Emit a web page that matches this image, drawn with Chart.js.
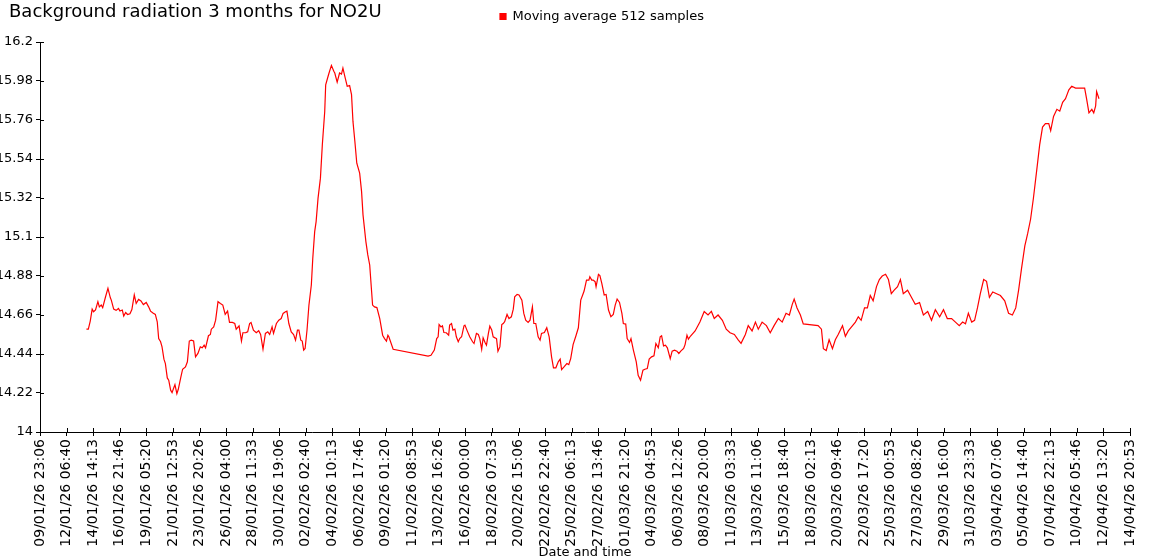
<!DOCTYPE html>
<html>
<head>
<meta charset="utf-8">
<title>Background radiation 3 months for NO2U</title>
<script src="https://cdn.jsdelivr.net/npm/chart.js@4.4.1/dist/chart.umd.min.js"></script>
<style>
  html, body { margin: 0; padding: 0; background: #fff; }
</style>
</head>
<body>
<canvas id="radiationChart" width="1150" height="560"></canvas>
<script>
// Texts
const chartTitle = 'Background radiation 3 months for NO2U';
const seriesLabel = 'Moving average 512 samples';
const xAxisTitle = 'Date and time';

// Time axis: hours since 09/01/26 23:06 (last tick 14/04/26 20:53)
const spanHours = 2277.78;
const xTickLabels = [
  '09/01/26 23:06', '12/01/26 06:40', '14/01/26 14:13', '16/01/26 21:46', '19/01/26 05:20',
  '21/01/26 12:53', '23/01/26 20:26', '26/01/26 04:00', '28/01/26 11:33', '30/01/26 19:06',
  '02/02/26 02:40', '04/02/26 10:13', '06/02/26 17:46', '09/02/26 01:20', '11/02/26 08:53',
  '13/02/26 16:26', '16/02/26 00:00', '18/02/26 07:33', '20/02/26 15:06', '22/02/26 22:40',
  '25/02/26 06:13', '27/02/26 13:46', '01/03/26 21:20', '04/03/26 04:53', '06/03/26 12:26',
  '08/03/26 20:00', '11/03/26 03:33', '13/03/26 11:06', '15/03/26 18:40', '18/03/26 02:13',
  '20/03/26 09:46', '22/03/26 17:20', '25/03/26 00:53', '27/03/26 08:26', '29/03/26 16:00',
  '31/03/26 23:33', '03/04/26 07:06', '05/04/26 14:40', '07/04/26 22:13', '10/04/26 05:46',
  '12/04/26 13:20', '14/04/26 20:53'
];
const yTickValues = [14, 14.22, 14.44, 14.66, 14.88, 15.1, 15.32, 15.54, 15.76, 15.98, 16.2];

// Moving average samples (hours since start, value)
const sampleHours = [
  97, 101, 105, 109, 112, 116, 121, 124, 128, 131, 137, 142, 147, 149, 154, 159, 164, 167, 172, 175,
  179, 183, 188, 192, 197, 201, 206, 211, 216, 222, 227, 231, 236, 241, 245, 248, 252, 255, 259, 262,
  266, 269, 273, 276, 279, 282, 286, 289, 294, 298, 304, 308, 312, 316, 321, 325, 330, 335, 339, 343,
  346, 352, 356, 358, 363, 367, 372, 377, 382, 387, 392, 396, 402, 407, 410, 416,
  421, 424, 430, 434, 438, 441, 446, 452, 457, 461, 466, 471, 476, 480, 485, 488, 494, 499, 504, 508,
  513, 516, 520, 525, 530, 534, 538, 541, 545, 548, 551, 554, 558, 562, 567, 570, 574, 577, 581, 586,
  590, 595, 597, 601, 604, 609, 614, 616, 621, 626, 630, 633, 637, 642, 647, 651, 654, 658, 662, 668,
  672, 675, 681, 685, 689, 693, 695, 699, 704, 710, 716, 720, 724, 727, 729, 738,
  811, 817, 824, 829, 832, 834, 838, 841, 844, 849, 854, 856, 860, 863, 867, 870, 874, 877, 881, 886,
  888, 893, 898, 904, 907, 912, 916, 919, 923, 926, 930, 933, 937, 940, 944, 947, 951, 954, 957, 961,
  965, 968, 971, 976, 980, 985, 989, 992, 997, 1001, 1007, 1011, 1015, 1020, 1024, 1029, 1032, 1036, 1041, 1045,
  1048, 1054, 1059, 1064, 1069, 1073, 1078, 1083, 1087, 1090, 1095, 1101, 1105, 1109, 1114, 1120, 1125, 1130, 1134, 1137,
  1142, 1147, 1149, 1153, 1156, 1160, 1162, 1167, 1170, 1174, 1179, 1183, 1188, 1193, 1198, 1202, 1206, 1211, 1216, 1219,
  1224, 1227, 1232, 1235, 1240, 1246, 1250, 1255, 1260, 1264, 1269, 1273, 1278, 1283, 1287, 1292, 1296, 1299, 1303, 1307,
  1311, 1317, 1321, 1326, 1331, 1335, 1339, 1345, 1348, 1352, 1355,
  1359, 1369, 1379, 1388, 1396, 1403, 1409, 1417, 1426, 1434, 1442, 1451, 1459, 1465, 1474, 1480, 1488, 1495, 1501, 1509,
  1518, 1526, 1534, 1543, 1551, 1559, 1566, 1572, 1576, 1582, 1589, 1595,
  1626, 1633, 1637, 1643, 1649, 1656, 1662, 1668, 1677, 1683, 1689, 1698, 1704, 1710, 1716, 1723, 1729, 1735, 1741, 1748,
  1754, 1760, 1767, 1773, 1779, 1785, 1792, 1798, 1804, 1813, 1821, 1829, 1838, 1846, 1855, 1863, 1871, 1880, 1888, 1896,
  1905, 1913, 1921, 1928, 1934, 1940, 1947, 1953, 1959, 1965, 1972, 1978, 1984, 1991, 1999, 2007, 2016, 2024, 2032, 2039,
  2045, 2051, 2058, 2064, 2070, 2076, 2083, 2089, 2095, 2101, 2108, 2112, 2118, 2125, 2131, 2137, 2143, 2150, 2156, 2164,
  2175, 2183, 2187, 2192, 2198, 2202, 2206, 2208, 2213
];
const sampleValues = [
  14.580, 14.580, 14.626, 14.693, 14.678, 14.688, 14.735, 14.706, 14.716, 14.701, 14.763, 14.810, 14.757, 14.744, 14.693, 14.686, 14.697, 14.682, 14.688, 14.654,
  14.674, 14.663, 14.667, 14.691, 14.773, 14.725, 14.748, 14.739, 14.719, 14.731, 14.706, 14.682, 14.671, 14.663, 14.622, 14.527, 14.509, 14.480, 14.411, 14.386,
  14.305, 14.292, 14.236, 14.222, 14.245, 14.267, 14.216, 14.241, 14.305, 14.354, 14.367, 14.396, 14.513, 14.518, 14.513, 14.424, 14.443, 14.480, 14.475, 14.490,
  14.475, 14.543, 14.550, 14.580, 14.593, 14.631, 14.735, 14.725, 14.716, 14.663, 14.682, 14.618, 14.618, 14.612, 14.580, 14.599,
  14.513, 14.560, 14.561, 14.565, 14.612, 14.618, 14.575, 14.560, 14.571, 14.550, 14.467, 14.556, 14.565, 14.550, 14.593, 14.556, 14.612, 14.631, 14.640, 14.669,
  14.678, 14.682, 14.612, 14.565, 14.550, 14.518, 14.575, 14.575, 14.518, 14.513, 14.462, 14.471, 14.575, 14.716, 14.829, 14.979, 15.130, 15.187, 15.318, 15.432,
  15.620, 15.808, 15.959, 15.997, 16.025, 16.068, 16.035, 16.025, 15.974, 16.025, 16.019, 16.053, 16.006, 15.950, 15.954, 15.903, 15.752, 15.639, 15.516, 15.460,
  15.356, 15.225, 15.074, 14.999, 14.942, 14.791, 14.716, 14.706, 14.702, 14.639, 14.546, 14.527, 14.513, 14.546, 14.537, 14.467,
  14.428, 14.433, 14.462, 14.527, 14.537, 14.606, 14.593, 14.599, 14.561, 14.560, 14.546, 14.603, 14.612, 14.575, 14.580, 14.537, 14.509, 14.527, 14.537, 14.599,
  14.603, 14.569, 14.537, 14.509, 14.499, 14.556, 14.550, 14.527, 14.467, 14.531, 14.505, 14.490, 14.556, 14.597, 14.575, 14.537, 14.531, 14.527, 14.456, 14.480,
  14.606, 14.612, 14.622, 14.663, 14.640, 14.650, 14.693, 14.763, 14.776, 14.773, 14.744, 14.669, 14.631, 14.618, 14.631, 14.706, 14.612, 14.612, 14.537, 14.518,
  14.556, 14.561, 14.588, 14.537, 14.424, 14.362, 14.362, 14.396, 14.411, 14.352, 14.367, 14.386, 14.380, 14.414, 14.493, 14.543, 14.588, 14.744, 14.773, 14.795,
  14.857, 14.857, 14.876, 14.857, 14.857, 14.848, 14.819, 14.889, 14.882, 14.838, 14.773, 14.776, 14.688, 14.650, 14.663, 14.716, 14.750, 14.731, 14.669, 14.612,
  14.609, 14.527, 14.505, 14.527, 14.462, 14.396, 14.320, 14.292, 14.349, 14.354, 14.358, 14.411, 14.424, 14.430, 14.499, 14.475, 14.537, 14.543, 14.486, 14.490,
  14.475, 14.414, 14.456, 14.462, 14.456, 14.443, 14.456, 14.471, 14.493, 14.546, 14.524,
  14.54, 14.57, 14.62, 14.68, 14.66, 14.68, 14.64, 14.66, 14.63, 14.58, 14.56, 14.55, 14.52, 14.50, 14.55, 14.60, 14.57, 14.62, 14.58, 14.62,
  14.60, 14.56, 14.60, 14.64, 14.62, 14.67, 14.66, 14.72, 14.75, 14.70, 14.66, 14.61,
  14.60, 14.58, 14.47, 14.46, 14.52, 14.47, 14.52, 14.55, 14.60, 14.54, 14.57, 14.60, 14.62, 14.65, 14.63, 14.70, 14.70, 14.77, 14.74, 14.82,
  14.86, 14.88, 14.89, 14.86, 14.78, 14.80, 14.82, 14.86, 14.78, 14.80, 14.76, 14.72, 14.73, 14.66, 14.68, 14.63, 14.69, 14.65, 14.69, 14.64,
  14.64, 14.62, 14.60, 14.62, 14.61, 14.67, 14.62, 14.63, 14.70, 14.78, 14.86, 14.85, 14.76, 14.79, 14.78, 14.77, 14.74, 14.67, 14.66, 14.70,
  14.80, 14.92, 15.05, 15.12, 15.20, 15.32, 15.48, 15.62, 15.72, 15.74, 15.74, 15.70, 15.78, 15.82, 15.81, 15.86, 15.88, 15.93, 15.95, 15.94,
  15.94, 15.94, 15.88, 15.80, 15.82, 15.80, 15.84, 15.92, 15.88
];

const lineColor = '#ff0000';
const xStep = spanHours / (xTickLabels.length - 1);
const legendBoxX = 500;

Chart.defaults.font.family = '"DejaVu Sans", Verdana, sans-serif';
Chart.defaults.color = '#000';

// Ticks in the reference cross the axis line: draw the inner half here
const crossTicks = {
  id: 'crossTicks',
  afterDraw(chart) {
    const { ctx, chartArea, scales } = chart;
    ctx.save();
    ctx.strokeStyle = '#000';
    ctx.lineWidth = 1;
    ctx.beginPath();
    scales.x.ticks.forEach(t => {
      const px = Math.round(scales.x.getPixelForValue(t.value)) + 0.5;
      ctx.moveTo(px, chartArea.bottom);
      ctx.lineTo(px, chartArea.bottom - 4);
    });
    scales.y.ticks.forEach(t => {
      const py = Math.round(scales.y.getPixelForValue(t.value)) + 0.5;
      ctx.moveTo(chartArea.left, py);
      ctx.lineTo(chartArea.left + 4, py);
    });
    ctx.stroke();
    ctx.restore();
  }
};

// Title on the left and legend on the same line
const header = {
  id: 'header',
  afterLayout(chart) {
    const lg = chart.legend;
    const dy = lg.top;
    lg.top -= dy;
    lg.bottom -= dy;
    const dx = (legendBoxX - 10) - lg.left;
    lg.left += dx;
    lg.right += dx;
  },
  afterDraw(chart) {
    const ctx = chart.ctx;
    ctx.save();
    ctx.font = '18px "DejaVu Sans", Verdana, sans-serif';
    ctx.fillStyle = '#000';
    ctx.textBaseline = 'alphabetic';
    ctx.fillText(chartTitle, 9, 17);
    ctx.restore();
  }
};

const chart = new Chart(document.getElementById('radiationChart'), {
  type: 'line',
  data: {
    datasets: [{
      label: seriesLabel,
      data: sampleHours.map((h, i) => ({ x: h, y: sampleValues[i] })),
      borderColor: lineColor,
      backgroundColor: lineColor,
      borderWidth: 1.2,
      pointRadius: 0,
      tension: 0,
      fill: false
    }]
  },
  options: {
    responsive: false,
    animation: false,
    layout: { padding: { top: 9, right: 20, left: 0, bottom: 0 } },
    plugins: {
      legend: {
        position: 'top',
        align: 'start',
        labels: { boxWidth: 6, boxHeight: 6, padding: 10, font: { size: 13 }, color: '#000' }
      },
      tooltip: { enabled: false }
    },
    scales: {
      x: {
        type: 'linear',
        min: 0,
        max: spanHours,
        afterBuildTicks: s => { s.ticks = xTickLabels.map((_, i) => ({ value: i * xStep })); },
        afterFit: s => { s.height = 128; },
        ticks: {
          autoSkip: false,
          minRotation: 90,
          maxRotation: 90,
          padding: 3,
          color: '#000',
          font: { size: 14 },
          callback: (v, i) => xTickLabels[i]
        },
        grid: { drawOnChartArea: false, tickLength: 4, color: '#000' },
        border: { color: '#000', width: 1 },
        title: { display: true, text: xAxisTitle, color: '#000', font: { size: 13 }, padding: 0 }
      },
      y: {
        min: 14,
        max: 16.2,
        afterBuildTicks: s => { s.ticks = yTickValues.map(v => ({ value: v })); },
        afterFit: s => { s.width = 40; },
        ticks: { color: '#000', font: { size: 13 }, padding: 3, callback: v => String(v) },
        grid: { drawOnChartArea: false, tickLength: 4, color: '#000' },
        border: { color: '#000', width: 1 }
      }
    }
  },
  plugins: [crossTicks, header]
});
</script>
</body>
</html>
